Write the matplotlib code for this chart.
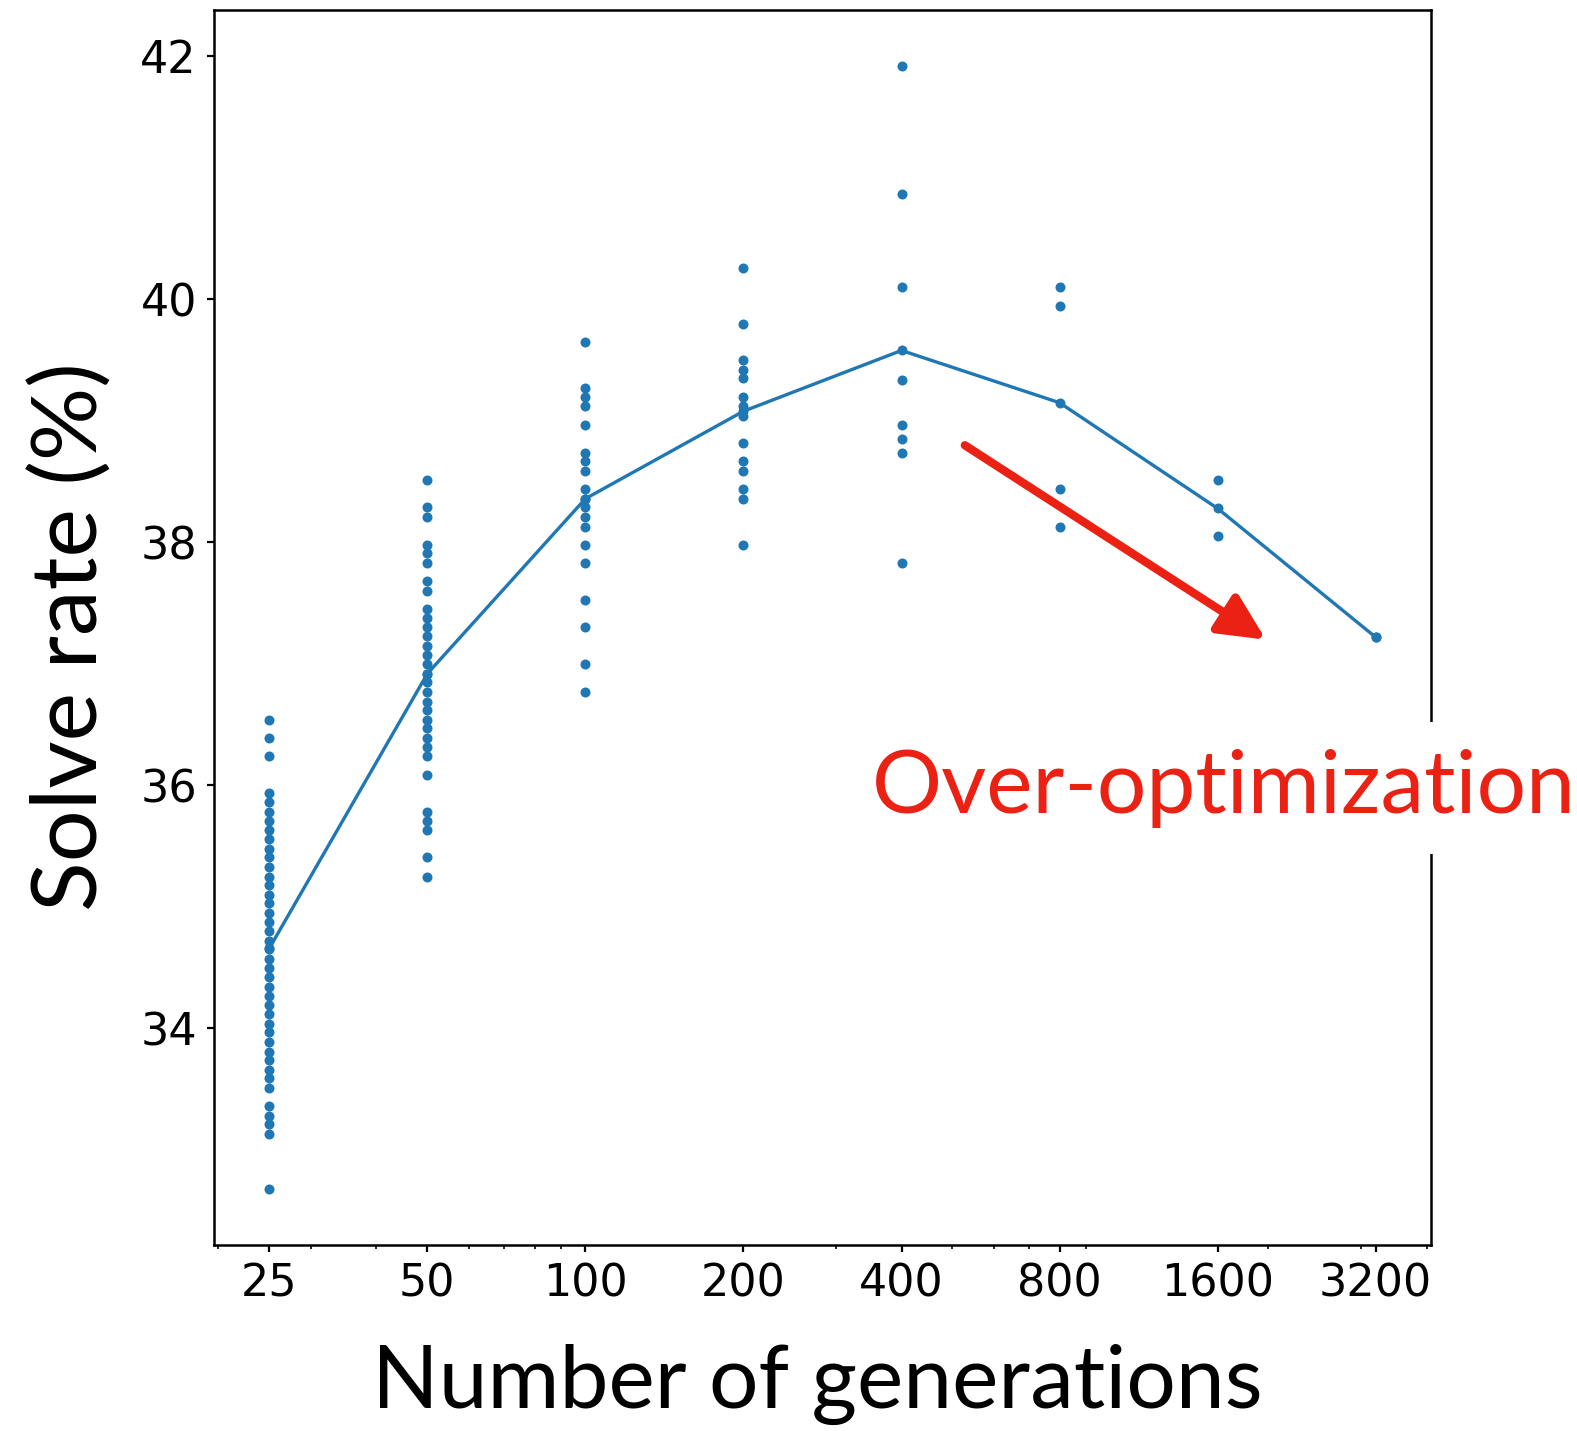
import matplotlib

matplotlib.use("Agg")
import matplotlib.pyplot as plt
from matplotlib.ticker import NullFormatter

generations = [25, 50, 100, 200, 400, 800, 1600, 3200]
tick_labels = ["25", "50", "100", "200", "400", "800", "1600", "3200"]
y_ticks = [34, 36, 38, 40, 42]

# distinct solve rates (%) seen in each column; stacked duplicates are drawn once
rates_25 = [32.68, 33.13, 33.21, 33.28, 33.36, 33.51, 33.59, 33.66, 33.74, 33.81,
            33.89, 33.97, 34.04, 34.12, 34.19, 34.27, 34.34, 34.42, 34.50, 34.57,
            34.65, 34.72, 34.80, 34.88, 34.95, 35.03, 35.10, 35.18, 35.25, 35.33,
            35.41, 35.48, 35.56, 35.63, 35.71, 35.78, 35.86, 35.94, 36.24, 36.39,
            36.54]
rates_50 = [35.25, 35.41, 35.63, 35.71, 35.78, 36.09, 36.24, 36.32, 36.39, 36.47,
            36.54, 36.62, 36.69, 36.77, 36.85, 36.92, 37.00, 37.07, 37.15, 37.23,
            37.30, 37.38, 37.45, 37.60, 37.68, 37.83, 37.91, 37.98, 38.21, 38.29,
            38.51]
rates_100 = [36.77, 37.00, 37.30, 37.53, 37.83, 37.98, 38.13, 38.21, 38.29, 38.36,
             38.44, 38.59, 38.67, 38.74, 38.97, 39.12, 39.20, 39.27, 39.65]
rates_200 = [37.98, 38.36, 38.44, 38.59, 38.67, 38.82, 39.04, 39.12, 39.20, 39.35,
             39.42, 39.50, 39.80, 40.26]
rates_400 = [37.83, 38.74, 38.85, 38.97, 39.34, 40.10, 40.87, 41.92]
rates_800 = [38.13, 38.44, 39.95, 40.10]
rates_1600 = [38.05, 38.51]
rates_3200 = [37.22]

mean_rates = [34.66, 36.92, 38.36, 39.08, 39.58, 39.15, 38.28, 37.22]

BLUE = "#1f77b4"
RED = "#eb2113"
LABEL_FONT = ["Lato", "DejaVu Sans"]

fig = plt.figure(figsize=(15.77, 14.31), dpi=100)
ax = fig.add_axes([0.1357, 0.130, 0.7717, 0.863])

columns = [rates_25, rates_50, rates_100, rates_200, rates_400, rates_800, rates_1600, rates_3200]
for g, rates in zip(generations, columns):
    ax.scatter([g] * len(rates), rates, s=52, color=BLUE, linewidths=0, zorder=2)
ax.plot(generations, mean_rates, color=BLUE, lw=2.4, marker="o", ms=7.2, mew=0, zorder=2)

ax.set_xscale("log")
ax.set_xticks(generations, tick_labels)
ax.xaxis.set_minor_formatter(NullFormatter())
ax.set_yticks(y_ticks)
ax.tick_params(which="major", labelsize=32, length=5.3, width=1.6, pad=7)
ax.tick_params(which="minor", length=3, width=1.2)
for spine in ax.spines.values():
    spine.set_linewidth(1.8)

# trend arrow
ax.annotate("", xy=(1977, 37.20), xytext=(528, 38.80),
            arrowprops=dict(arrowstyle="-|>,head_length=0.7,head_width=0.34", color=RED,
                            lw=6, shrinkA=0, shrinkB=0, mutation_scale=40))

fig.text(0.553, 0.4321, "Over-optimization", color=RED, fontsize=63, family=LABEL_FONT,
         ha="left", va="baseline", zorder=5,
         bbox=dict(facecolor="white", edgecolor="none", boxstyle="square,pad=0.3"))
fig.text(0.5185, 0.0161, "Number of generations", fontsize=63, family=LABEL_FONT,
         ha="center", va="baseline")
fig.text(0.0618, 0.5551, "Solve rate (%)", fontsize=66, family=LABEL_FONT,
         rotation=90, rotation_mode="anchor", ha="center", va="baseline")

fig.savefig("out.png", dpi=100)
plt.close(fig)
